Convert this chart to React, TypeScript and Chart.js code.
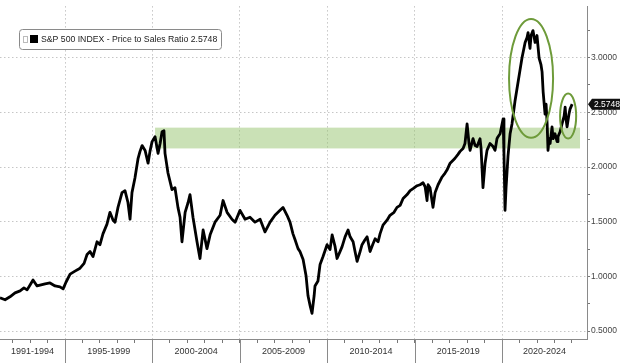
import React, { useEffect, useRef } from "react";
import { Chart, registerables } from "chart.js";

Chart.register(...registerables);

// ---- data (decimal year, price-to-sales ratio) ----
const YEARS = [
  1991.28, 1991.57, 1991.85, 1992.14, 1992.43, 1992.65, 1992.83, 1993.0, 1993.17, 1993.4,
  1993.63, 1993.86, 1994.14, 1994.43, 1994.71, 1994.89, 1995.06, 1995.29, 1995.57, 1995.86,
  1996.09, 1996.26, 1996.43, 1996.6, 1996.83, 1997.0, 1997.17, 1997.4, 1997.57, 1997.75,
  1997.86, 1998.03, 1998.26, 1998.43, 1998.6, 1998.72, 1998.83, 1999.0, 1999.18, 1999.29,
  1999.41, 1999.58, 1999.75, 1999.86, 1999.98, 2000.15, 2000.32, 2000.44, 2000.55, 2000.66,
  2000.72, 2000.89, 2001.12, 2001.29, 2001.46, 2001.58, 2001.69, 2001.87, 2002.04, 2002.15,
  2002.32, 2002.55, 2002.72, 2002.9, 2003.12, 2003.3, 2003.58, 2003.87, 2004.04, 2004.27,
  2004.55, 2004.73, 2005.01, 2005.3, 2005.58, 2005.87, 2006.16, 2006.44, 2006.73, 2007.01,
  2007.3, 2007.47, 2007.7, 2007.87, 2008.04, 2008.16, 2008.33, 2008.44, 2008.62, 2008.79,
  2008.9, 2009.02, 2009.13, 2009.25, 2009.3, 2009.47, 2009.59, 2009.76, 2009.99, 2010.16,
  2010.28, 2010.45, 2010.56, 2010.73, 2010.85, 2011.02, 2011.19, 2011.31, 2011.48, 2011.59,
  2011.71, 2011.88, 2011.99, 2012.16, 2012.28, 2012.45, 2012.62, 2012.74, 2012.91, 2013.02,
  2013.19, 2013.42, 2013.59, 2013.82, 2013.99, 2014.17, 2014.34, 2014.57, 2014.74, 2014.91,
  2015.14, 2015.31, 2015.48, 2015.6, 2015.71, 2015.77, 2015.88, 2016.05, 2016.17, 2016.34,
  2016.57, 2016.74, 2016.85, 2017.03, 2017.2, 2017.31, 2017.48, 2017.6, 2017.77, 2017.88,
  2018.0, 2018.11, 2018.17, 2018.34, 2018.46, 2018.57, 2018.74, 2018.8, 2018.91, 2019.03,
  2019.14, 2019.31, 2019.49, 2019.6, 2019.71, 2019.77, 2019.89, 2020.06, 2020.11, 2020.17,
  2020.23, 2020.34, 2020.46, 2020.57, 2020.74, 2020.92, 2021.03, 2021.14, 2021.32, 2021.43,
  2021.49, 2021.6, 2021.66, 2021.77, 2021.89, 2022.0, 2022.12, 2022.23, 2022.29, 2022.35,
  2022.46, 2022.52, 2022.58, 2022.63, 2022.69, 2022.75, 2022.86, 2022.92, 2023.03, 2023.15,
  2023.2, 2023.32, 2023.43, 2023.55, 2023.61, 2023.66, 2023.72, 2023.83, 2023.89, 2024.01,
];

const RATIO = [
  0.805, 0.787, 0.814, 0.85, 0.868, 0.895, 0.877, 0.922, 0.967, 0.913,
  0.922, 0.931, 0.94, 0.913, 0.904, 0.886, 0.949, 1.021, 1.048, 1.075,
  1.119, 1.2, 1.227, 1.182, 1.317, 1.29, 1.389, 1.478, 1.586, 1.514,
  1.496, 1.631, 1.766, 1.784, 1.676, 1.523, 1.766, 1.9, 2.08, 2.143,
  2.196, 2.152, 2.035, 2.143, 2.232, 2.277, 2.125, 2.215, 2.322, 2.331,
  2.125, 1.945, 1.793, 1.811, 1.631, 1.541, 1.317, 1.586, 1.676, 1.748,
  1.541, 1.317, 1.164, 1.425, 1.254, 1.38, 1.496, 1.559, 1.694, 1.586,
  1.523, 1.496, 1.604, 1.523, 1.541, 1.496, 1.523, 1.407, 1.496, 1.559,
  1.604, 1.631, 1.559, 1.496, 1.389, 1.335, 1.254, 1.227, 1.155, 1.003,
  0.823, 0.733, 0.662, 0.823, 0.913, 0.958, 1.11, 1.182, 1.29, 1.245,
  1.38, 1.272, 1.164, 1.227, 1.272, 1.362, 1.425, 1.362, 1.317, 1.227,
  1.137, 1.227, 1.29, 1.335, 1.362, 1.227, 1.299, 1.344, 1.317, 1.389,
  1.469, 1.514, 1.559, 1.586, 1.631, 1.649, 1.712, 1.748, 1.784, 1.802,
  1.829, 1.838, 1.856, 1.82, 1.694, 1.838, 1.811, 1.631, 1.766, 1.838,
  1.909, 1.945, 1.972, 2.035, 2.062, 2.08, 2.116, 2.143, 2.17, 2.215,
  2.394, 2.215, 2.152, 2.259, 2.196, 2.187, 2.259, 2.17, 1.811, 2.035,
  2.152, 2.215, 2.187, 2.152, 2.259, 2.277, 2.304, 2.439, 2.125, 1.604,
  1.811, 2.098, 2.304, 2.394, 2.601, 2.78, 2.888, 2.996, 3.139, 3.184,
  3.229, 3.085, 3.202, 3.247, 3.139, 3.202, 2.996, 2.933, 2.87, 2.69,
  2.484, 2.574, 2.394, 2.152, 2.259, 2.215, 2.367, 2.259, 2.304, 2.232,
  2.277, 2.322, 2.394, 2.466, 2.547, 2.439, 2.367, 2.484, 2.529, 2.5748,
];

const SERIES_NAME = "S&P 500 INDEX - Price to Sales Ratio";
const LAST_VALUE = 2.5748;

const PERIOD_LABELS = ["1991-1994", "1995-1999", "2000-2004", "2005-2009", "2010-2014", "2015-2019", "2020-2024"];
const PERIOD_STARTS = [1991, 1995, 2000, 2005, 2010, 2015, 2020];
const PERIOD_ENDS = [1995, 2000, 2005, 2010, 2015, 2020, 2025];
const YEAR_TICKS = [
  1992, 1993, 1994, 1995, 1996, 1997, 1998, 1999, 2000, 2001, 2002, 2003, 2004, 2005, 2006, 2007,
  2008, 2009, 2010, 2011, 2012, 2013, 2014, 2015, 2016, 2017, 2018, 2019, 2020, 2021, 2022, 2023, 2024,
];
const Y_TICKS = [0.5, 0.75, 1.0, 1.25, 1.5, 1.75, 2.0, 2.25, 2.5, 2.75, 3.0, 3.25];

// axis ranges
const X_MIN = 1991.28;
const X_MAX = 2024.86;
const Y_MIN = 0.428;
const Y_MAX = 3.471;

// annotations in data units
const BAND = { x0: 2000.15, x1: 2024.46, y0: 2.17, y1: 2.36 };
const ELLIPSES = [
  { cx: 2021.66, cy: 2.81, rx: 1.26, ry: 0.543 },
  { cx: 2023.78, cy: 2.466, rx: 0.46, ry: 0.206 },
];

const FONT = "'Liberation Sans', Arial, sans-serif";

const decorPlugin = {
  id: "decor",
  beforeDatasetsDraw(chart: any) {
    const { ctx, scales } = chart;
    const x = scales.x;
    const y = scales.y;
    const x0 = x.getPixelForValue(BAND.x0);
    const x1 = x.getPixelForValue(BAND.x1);
    const y0 = y.getPixelForValue(BAND.y1);
    const y1 = y.getPixelForValue(BAND.y0);
    ctx.save();
    ctx.fillStyle = "rgba(150,196,110,0.5)";
    ctx.fillRect(x0, y0, x1 - x0, y1 - y0);
    ctx.restore();
  },
  afterDraw(chart: any) {
    const { ctx, scales, chartArea } = chart;
    const x = scales.x;
    const y = scales.y;
    ctx.save();

    // highlight ellipses
    ctx.strokeStyle = "#6e9b3a";
    ctx.lineWidth = 2;
    for (const e of ELLIPSES) {
      const cx = x.getPixelForValue(e.cx);
      const cy = y.getPixelForValue(e.cy);
      const rx = Math.abs(x.getPixelForValue(e.cx + e.rx) - cx);
      const ry = Math.abs(y.getPixelForValue(e.cy + e.ry) - cy);
      ctx.beginPath();
      ctx.ellipse(cx, cy, rx, ry, 0, 0, Math.PI * 2);
      ctx.stroke();
    }

    // x-axis period separators and labels
    const H = chart.height;
    ctx.strokeStyle = "#8a8a8a";
    ctx.lineWidth = 1;
    for (let i = 1; i < PERIOD_STARTS.length; i++) {
      const px = Math.round(x.getPixelForValue(PERIOD_STARTS[i])) + 0.5;
      ctx.beginPath();
      ctx.moveTo(px, chartArea.bottom);
      ctx.lineTo(px, H);
      ctx.stroke();
    }
    ctx.fillStyle = "#333";
    ctx.font = `9px ${FONT}`;
    ctx.textAlign = "center";
    ctx.textBaseline = "middle";
    for (let i = 0; i < PERIOD_LABELS.length; i++) {
      const a = Math.max(chartArea.left, x.getPixelForValue(PERIOD_STARTS[i]));
      const b = Math.min(chartArea.right, x.getPixelForValue(PERIOD_ENDS[i]));
      ctx.fillText(PERIOD_LABELS[i], (a + b) / 2, chartArea.bottom + 13);
    }

    // legend box
    const lx = 19.5, ly = 29.5, lw = 202, lh = 20;
    ctx.beginPath();
    ctx.roundRect(lx, ly, lw, lh, 3);
    ctx.fillStyle = "#fff";
    ctx.fill();
    ctx.strokeStyle = "#8a8a8a";
    ctx.stroke();
    ctx.strokeStyle = "#bbb";
    ctx.strokeRect(23.5, 36.5, 4, 6);
    ctx.fillStyle = "#000";
    ctx.fillRect(30, 35, 8, 8);
    ctx.fillStyle = "#222";
    ctx.textAlign = "left";
    ctx.font = `8.7px ${FONT}`;
    ctx.fillText(`${SERIES_NAME} ${LAST_VALUE.toFixed(4)}`, 41, 39.5);

    // last value tag
    const ty = y.getPixelForValue(LAST_VALUE);
    const tx = chartArea.right + 1;
    ctx.beginPath();
    ctx.moveTo(tx, ty);
    ctx.lineTo(tx + 4, ty - 5.5);
    ctx.lineTo(chart.width, ty - 5.5);
    ctx.lineTo(chart.width, ty + 5.5);
    ctx.lineTo(tx + 4, ty + 5.5);
    ctx.closePath();
    ctx.fillStyle = "#111";
    ctx.fill();
    ctx.fillStyle = "#fff";
    ctx.font = `8.5px ${FONT}`;
    ctx.fillText(LAST_VALUE.toFixed(4), tx + 6, ty + 0.5);

    ctx.restore();
  },
};

export default function App() {
  const ref = useRef<HTMLCanvasElement | null>(null);

  useEffect(() => {
    if (!ref.current) return;
    const points = YEARS.map((yr, i) => ({ x: yr, y: RATIO[i] }));
    const chart = new Chart(ref.current, {
      type: "line",
      data: {
        datasets: [
          {
            label: SERIES_NAME,
            data: points,
            borderColor: "#000",
            borderWidth: 2.8,
            pointRadius: 0,
            tension: 0,
            borderJoinStyle: "round",
          } as any,
        ],
      },
      options: {
        responsive: false,
        animation: false,
        events: [],
        layout: { padding: 0 },
        plugins: { legend: { display: false }, tooltip: { enabled: false } },
        scales: {
          x: {
            type: "linear",
            min: X_MIN,
            max: X_MAX,
            afterBuildTicks: (s: any) => {
              s.ticks = YEAR_TICKS.map((v) => ({ value: v }));
            },
            afterFit: (s: any) => {
              s.height = 24;
            },
            ticks: { display: false },
            grid: {
              color: (c: any) => (c.tick && c.tick.value % 5 === 0 ? "#c6c6c6" : "rgba(0,0,0,0)"),
              tickColor: "#777",
              tickLength: 4,
              lineWidth: 1,
            },
            border: { display: true, color: "#8a8a8a", dash: [1.5, 2.5] },
          },
          y: {
            type: "linear",
            position: "right",
            min: Y_MIN,
            max: Y_MAX,
            afterBuildTicks: (s: any) => {
              s.ticks = Y_TICKS.map((v) => ({ value: v }));
            },
            afterFit: (s: any) => {
              s.width = 33;
            },
            ticks: {
              callback: (v: any) => (Math.abs((v * 2) % 1) < 1e-6 ? Number(v).toFixed(4) : ""),
              font: { family: FONT, size: 8.5 },
              color: "#444",
              padding: 1,
              autoSkip: false,
            },
            grid: {
              color: (c: any) =>
                c.tick && Math.abs((c.tick.value * 2) % 1) < 1e-6 ? "#c6c6c6" : "rgba(0,0,0,0)",
              tickColor: "#777",
              tickLength: 3,
              lineWidth: 1,
            },
            border: { display: true, color: "#8a8a8a", dash: [1.5, 2.5] },
          },
        },
      },
      plugins: [decorPlugin],
    });
    return () => chart.destroy();
  }, []);

  return (
    <div style={{ position: "absolute", left: 0, top: 0, width: 620, height: 363, background: "#fff" }}>
      <canvas ref={ref} width={620} height={363} style={{ width: 620, height: 363 }} />
    </div>
  );
}
